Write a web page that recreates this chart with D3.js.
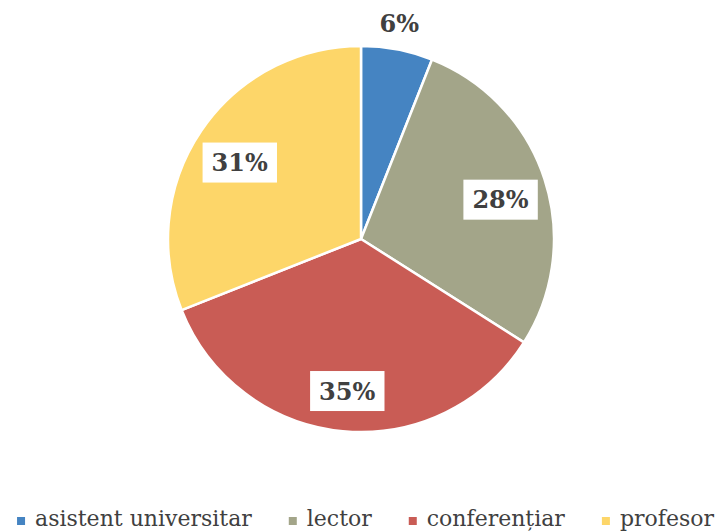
<!DOCTYPE html>
<html>
<head>
<meta charset="utf-8">
<script src="https://cdn.jsdelivr.net/npm/d3@7"></script>
<style>
  body { margin: 0; background: #fff; }
  svg { display: block; }
  text { font-family: "DejaVu Serif", serif; fill: #404040; }
</style>
</head>
<body>
<script>
// chart data
const categories = ['asistent universitar', 'lector', 'conferențiar', 'profesor'];
const values = [6, 28, 35, 31];
const colors = ['#4584c2', '#a3a589', '#c95c55', '#fdd669'];

let width = 723;
let height = 531;
let cx = 361;
let cy = 239;
let radius = 193;

let svg = d3.select('body')
  .append('svg')
  .attr('width', width)
  .attr('height', height);

let color = d3.scaleOrdinal().domain(categories).range(colors);

let pie = d3.pie().sort(null).value(d => d.value);
let data = categories.map((c, i) => ({ name: c, value: values[i] }));
let arcs = pie(data);

let arc = d3.arc().innerRadius(0).outerRadius(radius);
let inLabel = d3.arc().innerRadius(radius * 0.76).outerRadius(radius * 0.76);
let outLabel = d3.arc().innerRadius(radius + 27).outerRadius(radius + 27);

let g = svg.append('g').attr('transform', `translate(${cx}, ${cy})`);

g.selectAll('path')
  .data(arcs)
  .enter()
  .append('path')
  .attr('d', arc)
  .attr('fill', d => color(d.data.name))
  .attr('stroke', '#fff')
  .attr('stroke-width', 2.5)
  .attr('stroke-linejoin', 'round');

let total = d3.sum(values);

// labels, small slices go outside without a box
let label = g.selectAll('g.lbl')
  .data(arcs)
  .enter()
  .append('g')
  .attr('class', 'lbl')
  .attr('transform', d => {
    if (d.data.value < 10) {
      let p = outLabel.centroid(d);
      return `translate(${p[0] - 3}, ${p[1]})`;
    }
    let p = inLabel.centroid(d);
    return `translate(${p[0]}, ${p[1] + 6})`;
  });

label.append('rect').attr('fill', '#fff');

label.append('text')
  .attr('text-anchor', 'middle')
  .attr('dy', '0.36em')
  .style('font-size', '24px')
  .style('font-weight', 'bold')
  .text(d => Math.round(d.data.value / total * 100) + '%');

label.each(function (d) {
  if (d.data.value < 10) return;
  let b = d3.select(this).select('text').node().getBBox();
  d3.select(this).select('rect')
    .attr('x', b.x - 9)
    .attr('y', -20)
    .attr('width', b.width + 18)
    .attr('height', 40);
});

// legend
let rectSize = 8;
let gap = 10;
let itemGap = 37;

let legend = svg.append('g').attr('id', 'legend');

let items = legend.selectAll('g')
  .data(categories)
  .enter()
  .append('g');

items.append('rect')
  .attr('width', rectSize)
  .attr('height', rectSize)
  .attr('y', -rectSize / 2 - 5)
  .attr('fill', d => color(d));

items.append('text')
  .attr('x', rectSize + gap)
  .style('font-size', '22px')
  .text(d => d);

let x = 0;
items.each(function () {
  let w = rectSize + gap + d3.select(this).select('text').node().getComputedTextLength();
  d3.select(this).attr('transform', `translate(${x}, 0)`);
  x += w + itemGap;
});
let legendWidth = x - itemGap;
legend.attr('transform', `translate(${(width - legendWidth) / 2 + 4}, 526)`);
</script>
</body>
</html>
